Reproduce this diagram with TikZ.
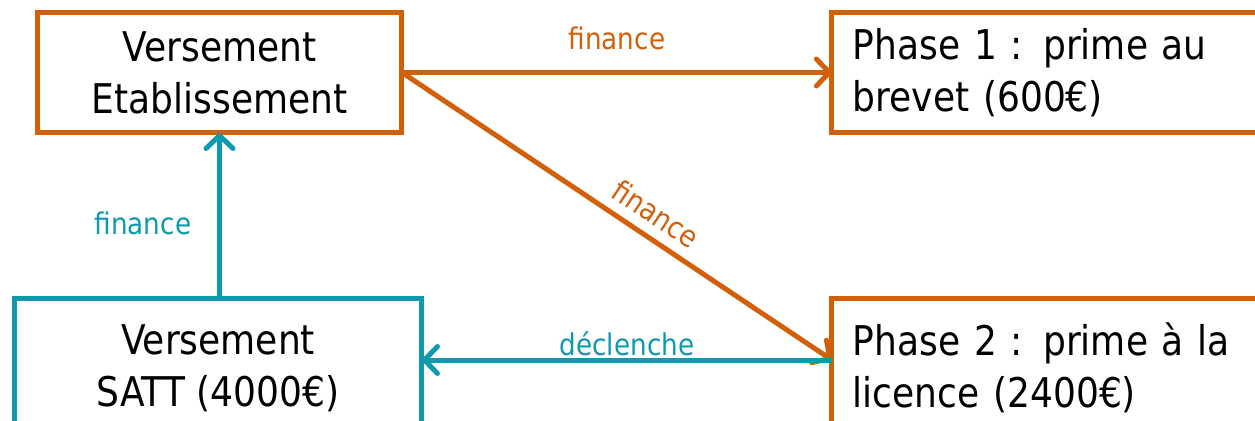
\documentclass[tikz,border=0pt]{standalone}
\usepackage{fontspec}
\setmainfont{DejaVu Sans}[FakeStretch=0.88]
\usepackage{tikz}
\usetikzlibrary{arrows.meta,positioning}
\definecolor{rouille}{RGB}{210,96,10}
\definecolor{canard}{RGB}{14,153,175}
\tikzset{%
  >={Straight Barb[length=2.6mm,width=5.4mm,round]},
  % Specifications for style of nodes:
          base/.style = {rectangle, draw, line width=0.1cm, outer sep=0pt,
                         fill=white, font=\fontsize{23.3}{29.5}\selectfont},
  versementBox/.style = {base, align=center},
      phaseBox/.style = {base, draw=rouille, anchor=west, align=left,
                         text width=9cm, inner xsep=0.42cm},
     flowLabel/.style = {font=\fontsize{17}{20}\selectfont},
}

\begin{document}
\begin{tikzpicture}[x=0.02cm, y=-0.02cm]
  \useasboundingbox (0,0) rectangle (1255,420);
  \clip (0,0) rectangle (1255,420);
  % Specification of nodes (position, etc.)
  \node (etab) [versementBox, draw=rouille, minimum width=7.3cm,
                minimum height=2.42cm] at (219.5,72.5)
                {Versement\\Etablissement};
  \node (phase1) [phaseBox, minimum height=2.42cm, right=8.6cm of etab]
                {Phase 1 : prime au\\brevet (600€)};
  \node (satt) [versementBox, draw=canard, minimum width=8.16cm,
                minimum height=2.8cm] at (218,368)
                {Versement\\SATT (4000€)};
  \node (phase2) [phaseBox, minimum height=2.8cm, right=8.2cm of satt]
                {Phase 2 : prime à la\\licence (2400€)};
  % points where the bottom connectors meet the boxes
  \coordinate (p2in) at ([yshift=0.16cm]phase2.west);
  \coordinate (sattout) at ([yshift=0.16cm]satt.east);
  % Specification of lines between nodes specified above
  % with aditional nodes for description
  \draw[->, rouille, line width=0.1cm] (etab.east) -- (phase1.west)
        node[flowLabel, midway, above=0.28cm] {finance};
  \draw[->, rouille, line width=0.1cm] (etab.east) -- (p2in)
        node[flowLabel, pos=0.56, sloped, above=0.08cm] {finance};
  \draw[->, canard, line width=0.1cm] (satt.north -| etab.south) -- (etab.south)
        node[flowLabel, pos=0.45, left=0.4cm] {finance};
  \draw[->, canard, line width=0.1cm] (p2in) -- (sattout)
        node[flowLabel, midway, above, inner sep=1pt] {déclenche};
\end{tikzpicture}
\end{document}
